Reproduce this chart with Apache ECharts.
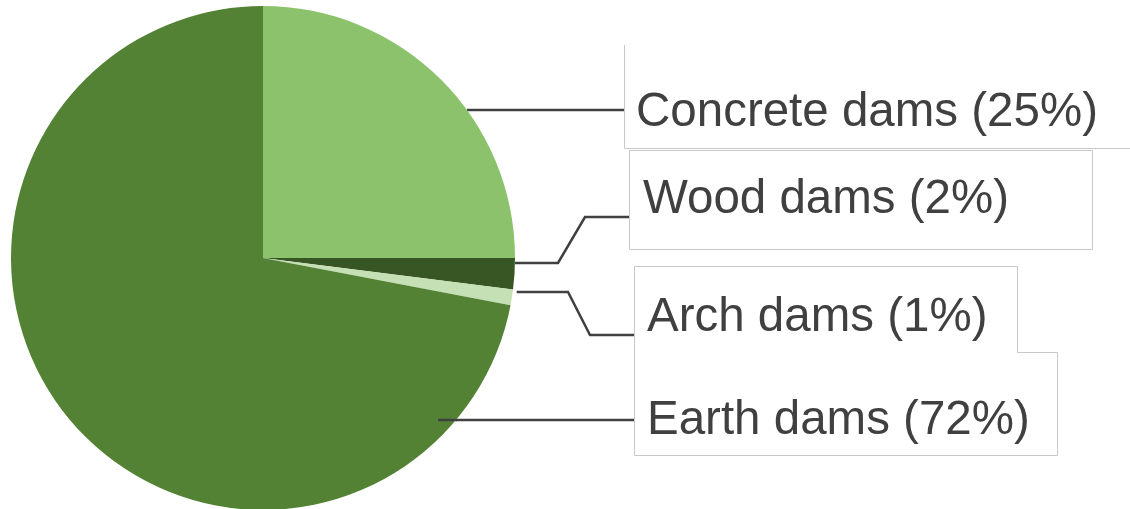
<!DOCTYPE html>
<html>
<head>
<meta charset="utf-8">
<title>Dam types</title>
<script src="https://cdn.jsdelivr.net/npm/echarts@6/dist/echarts.min.js"></script>
<style>
  html, body { margin: 0; padding: 0; background: #ffffff; }
  #chart { width: 1130px; height: 509px; }
</style>
</head>
<body>
<div id="chart"></div>
<script>
// Share of dams by construction type (percent)
const categories = ['Concrete dams', 'Wood dams', 'Arch dams', 'Earth dams'];
const shares = [25, 2, 1, 72];

// Slice colours, in category order
const sliceColors = ['#8DC26C', '#375623', '#C5E0B4', '#548235'];

// Pie geometry (px)
const CX = 263, CY = 258, R = 252;

// Where each label sits and how its leader line runs
// (overlap: how far the leader reaches back into the slice)
const labelSpots = [
  { x: 636, y: 113, lineY: 110, startY: 110, inset: 0,  overlap: 0,  elbow: null },
  { x: 643, y: 200, lineY: 217, startY: 263, inset: 0,  overlap: 0,  elbow: [558, 585] },
  { x: 647, y: 318, lineY: 335, startY: 292, inset: -4, overlap: 0,  elbow: [568, 590] },
  { x: 647, y: 421, lineY: 420, startY: 420, inset: 0,  overlap: 18, elbow: null }
];
const boxLeft = [624, 629, 634, 634];

function edgeX(y) {
  const dy = y - CY;
  return CX + Math.sqrt(Math.max(R * R - dy * dy, 0));
}

const leaderColor = '#404040';
const leaderWidth = 2.5;

const chart = echarts.init(document.getElementById('chart'), null, { renderer: 'canvas' });

const frame = { stroke: '#C9C9C9', fill: null, lineWidth: 1 };

// Leader stubs that run over the slice itself, drawn on top of the pie
const leaderStubs = labelSpots.filter(s => s.overlap > 0).map(s => ({
  type: 'line',
  silent: true,
  z: 100,
  shape: { x1: edgeX(s.startY) - s.overlap, y1: s.startY, x2: edgeX(s.startY) + 1, y2: s.startY },
  style: { stroke: leaderColor, lineWidth: leaderWidth }
}));

chart.setOption({
  animation: false,
  backgroundColor: '#ffffff',
  graphic: [
    { type: 'polyline', silent: true, shape: { points: [[624.5, 45], [624.5, 148.5], [1130, 148.5]] }, style: frame },
    { type: 'rect', silent: true, shape: { x: 629.5, y: 150.5, width: 463, height: 99 }, style: frame },
    { type: 'polyline', silent: true, shape: { points: [[634.5, 266.5], [1017.5, 266.5], [1017.5, 352.5], [1057.5, 352.5], [1057.5, 455.5], [634.5, 455.5], [634.5, 266.5]] }, style: frame }
  ].concat(leaderStubs),
  series: [{
    type: 'pie',
    center: [CX, CY],
    radius: R,
    startAngle: 90,
    clockwise: true,
    avoidLabelOverlap: false,
    silent: true,
    itemStyle: { borderWidth: 0 },
    data: categories.map((name, i) => ({
      name: name,
      value: shares[i],
      itemStyle: { color: sliceColors[i] }
    })),
    label: {
      show: true,
      position: 'outside',
      formatter: '{b} ({c}%)',
      fontFamily: '"Liberation Sans", Arial, sans-serif',
      fontSize: 47.5,
      color: '#404040'
    },
    labelLine: {
      show: true,
      showAbove: true,
      lineStyle: { color: leaderColor, width: leaderWidth }
    },
    labelLayout: function (params) {
      const s = labelSpots[params.dataIndex];
      const startX = edgeX(s.startY) - s.inset;
      const endX = boxLeft[params.dataIndex];
      let pts;
      if (s.elbow) {
        pts = [[startX, s.startY], [s.elbow[0], s.startY], [s.elbow[1], s.lineY], [endX, s.lineY]];
      } else {
        pts = [[startX, s.lineY], [endX, s.lineY]];
      }
      return {
        x: s.x,
        y: s.y,
        align: 'left',
        verticalAlign: 'middle',
        labelLinePoints: pts
      };
    }
  }]
});
</script>
</body>
</html>
